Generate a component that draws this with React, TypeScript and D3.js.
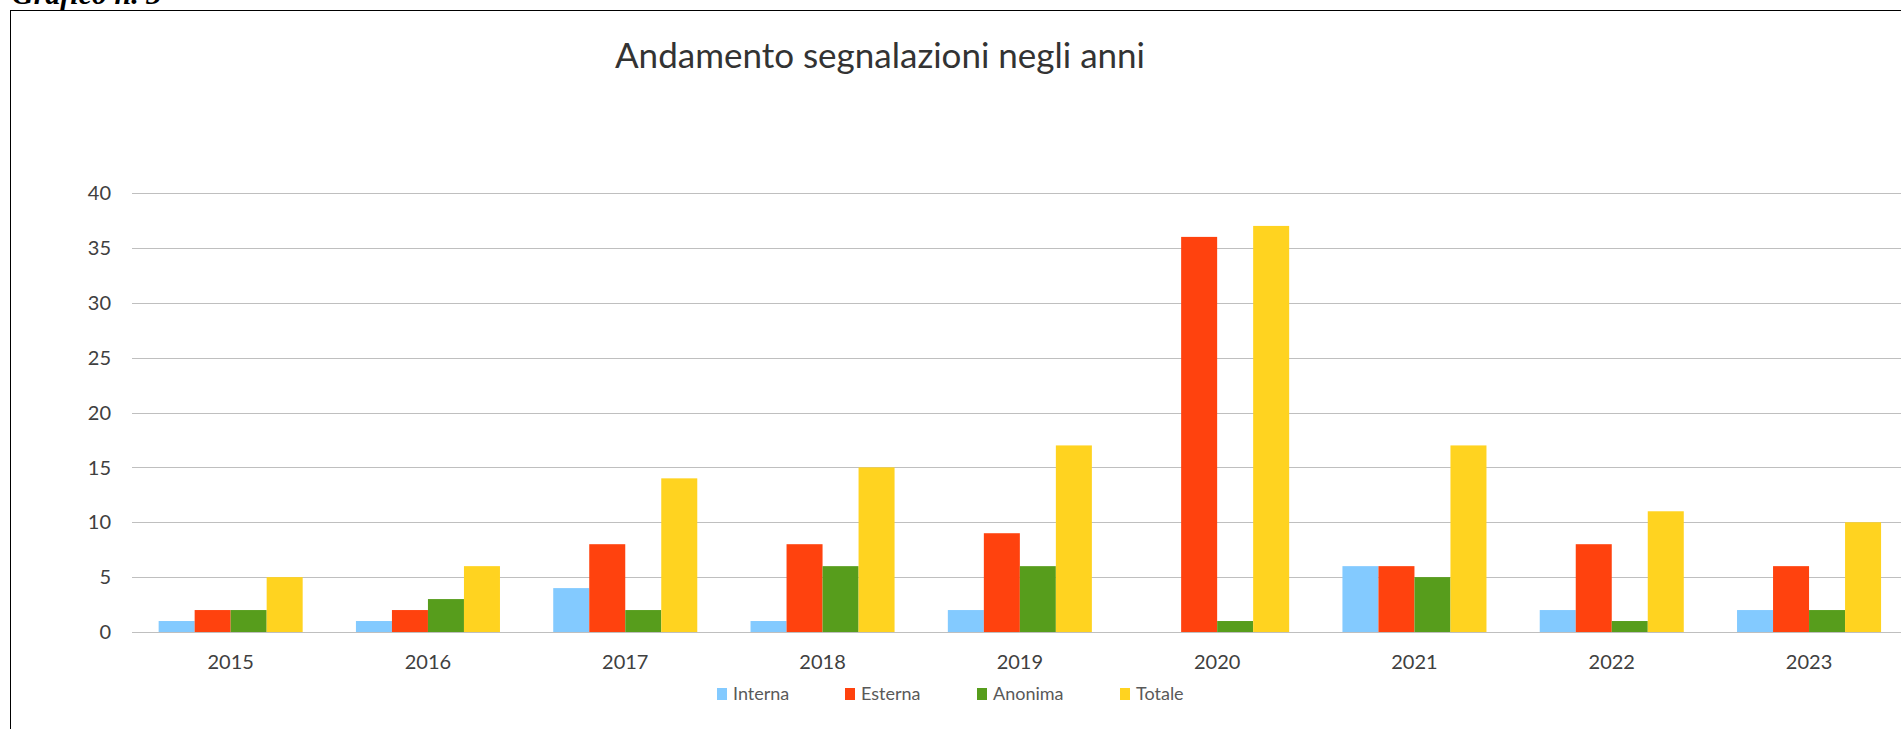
import * as d3 from "d3";

const years = ["2015", "2016", "2017", "2018", "2019", "2020", "2021", "2022", "2023"];
const interna = [1, 1, 4, 1, 2, 0, 6, 2, 2];
const esterna = [2, 2, 8, 8, 9, 36, 6, 8, 6];
const anonima = [2, 3, 2, 6, 6, 1, 5, 1, 2];
const totale = [5, 6, 14, 15, 17, 37, 17, 11, 10];
const seriesNames = ["Interna", "Esterna", "Anonima", "Totale"];
const yTicks = [0, 5, 10, 15, 20, 25, 30, 35, 40];

const colors = ["#83caff", "#ff420e", "#579d1c", "#ffd320"];
const font = "Lato, 'Open Sans', sans-serif";

export default function App() {
  const W = 1901, H = 729;
  const left = 132, step = 197.3;

  const x = d3.scaleBand<string>()
    .domain(years)
    .range([left, left + step * years.length])
    .paddingInner(0.27)
    .paddingOuter(0.135);
  const xs = d3.scaleBand<string>().domain(seriesNames).range([0, x.bandwidth()]);
  const y = d3.scaleLinear().domain([0, 40]).range([632, 193]);

  const series = [interna, esterna, anonima, totale];
  const legendX = [717, 845, 977, 1120];

  return (
    <svg width={W} height={H} style={{ position: "absolute", left: 0, top: 0, background: "#fff" }}>
      <text x={12} y={4} fontFamily="'Liberation Serif', serif" fontStyle="italic" fontWeight="bold" fontSize={30} fill="#000">
        Grafico n. 3
      </text>
      <rect x={10.5} y={10.5} width={2000} height={1000} fill="none" stroke="#000" strokeWidth={1} />

      <text x={615} y={68} fontFamily={font} fontSize={35} fill="#333">
        Andamento segnalazioni negli anni
      </text>

      {yTicks.map(t => (
        <g key={t}>
          <line x1={left} x2={x.range()[1]} y1={Math.round(y(t)) + 0.5} y2={Math.round(y(t)) + 0.5} stroke="#bfbfbf" strokeWidth={1} />
          <text x={111} y={y(t)} dy="0.36em" textAnchor="end" fontFamily={font} fontSize={20} fill="#404040">{t}</text>
        </g>
      ))}

      {years.map((yr, i) => (
        <g key={yr} transform={`translate(${x(yr)},0)`}>
          {series.map((s, j) => (
            <rect key={j} x={xs(seriesNames[j])} y={y(s[i])} width={xs.bandwidth()} height={y(0) - y(s[i])} fill={colors[j]} />
          ))}
          <text x={x.bandwidth() / 2} y={669} textAnchor="middle" fontFamily={font} fontSize={20} fill="#404040">{yr}</text>
        </g>
      ))}

      {seriesNames.map((n, j) => (
        <g key={n} transform={`translate(${legendX[j]},688)`}>
          <rect x={0} y={0} width={10} height={12} fill={colors[j]} />
          <text x={16} y={12} fontFamily={font} fontSize={18} fill="#595959">{n}</text>
        </g>
      ))}
    </svg>
  );
}
